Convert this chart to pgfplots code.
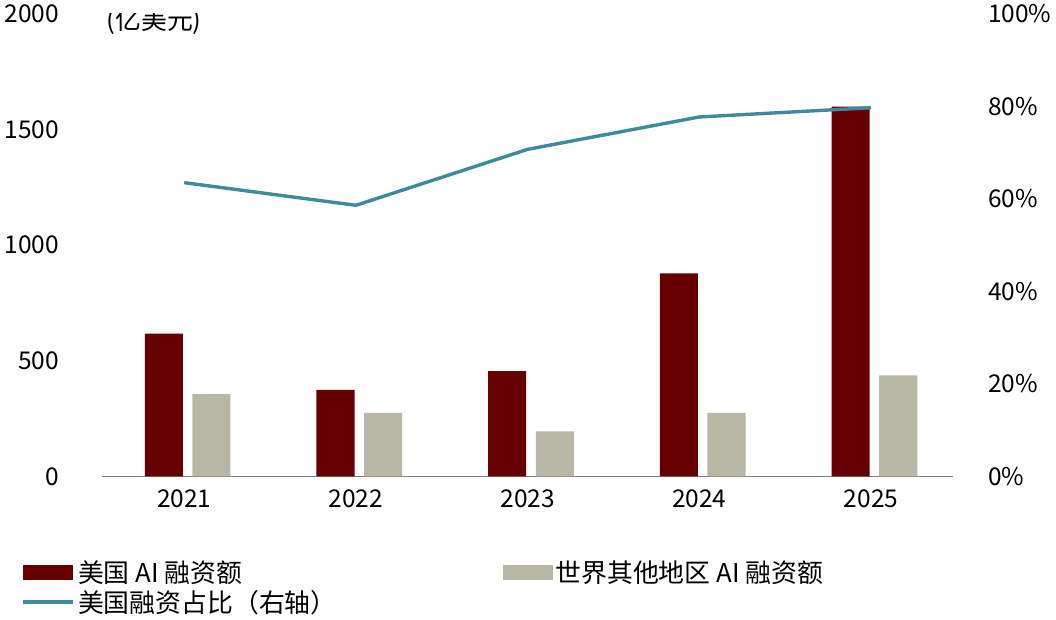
\documentclass[border=0pt]{standalone}
\usepackage{pgfplots}
\pgfplotsset{compat=1.18}
\usepackage{fontspec}
\setmainfont{Noto Sans CJK SC}
\definecolor{usred}{HTML}{660000}
\definecolor{rgrey}{HTML}{B8B7A5}
\definecolor{lblue}{HTML}{3F8A9C}
\begin{document}
\begin{tikzpicture}
\pgfplotsset{every axis/.append style={font=\fontsize{18}{21}\selectfont, /pgf/number format/assume math mode=true}}
\begin{axis}[name=main, scale only axis, width=626pt, height=340pt,
 xmin=-0.48, xmax=4.48, ymin=0, ymax=2000, ytick={0,500,...,2000},
 xtick={0,...,4}, xticklabels={2021,2022,2023,2024,2025},
 axis x line*=bottom, axis y line*=left, y axis line style={draw=none},
 x axis line style={gray}, major tick length=0pt,
 yticklabel style={xshift=-28pt}, xticklabel style={yshift=-6pt},
 /pgf/number format/1000 sep={},
 legend style={at={(rel axis cs:-0.1,-0.17)}, anchor=north west, draw=none, legend columns=2,
 /tikz/every even column/.append style={column sep=120pt}, font=\fontsize{19}{28}\selectfont},
 legend cell align=left]
\addplot[ybar, bar width=28pt, bar shift=-15pt, fill=usred, draw=none, area legend,
 legend image code/.code={\fill[usred] (0cm,-0.2cm) rectangle (1.3cm,0.2cm);}] coordinates {(0,617)(1,374)(2,455)(3,878)(4,1599)};
\addlegendentry{美国 AI 融资额}
\addplot[ybar, bar width=28pt, bar shift=20pt, fill=rgrey, draw=none, area legend,
 legend image code/.code={\fill[rgrey] (0cm,-0.2cm) rectangle (1.3cm,0.2cm);}] coordinates {(0,356)(1,275)(2,194)(3,275)(4,437)};
\addlegendentry{世界其他地区 AI 融资额}
\addlegendimage{legend image code/.code={\draw[line width=3pt, lblue] (0cm,0cm) -- (1.3cm,0cm);}}
\addlegendentry{美国融资占比（右轴）}
\node[anchor=west] at (rel axis cs:0,0.985) {\fontsize{19}{21}\selectfont (亿美元)};
\end{axis}
\begin{axis}[scale only axis, width=626pt, height=340pt,
 xmin=-0.48, xmax=4.48, ymin=0, ymax=100, ytick={0,20,...,100},
 axis x line=none, axis y line*=right, y axis line style={draw=none}, major tick length=0pt,
 yticklabel={\pgfmathprintnumber{\tick}\%}, yticklabel style={xshift=22pt}]
\addplot[line width=2.5pt, lblue] coordinates {(0,63.5)(1,58.6)(2,70.7)(3,77.7)(4,79.7)};
\end{axis}
\end{tikzpicture}
\end{document}
